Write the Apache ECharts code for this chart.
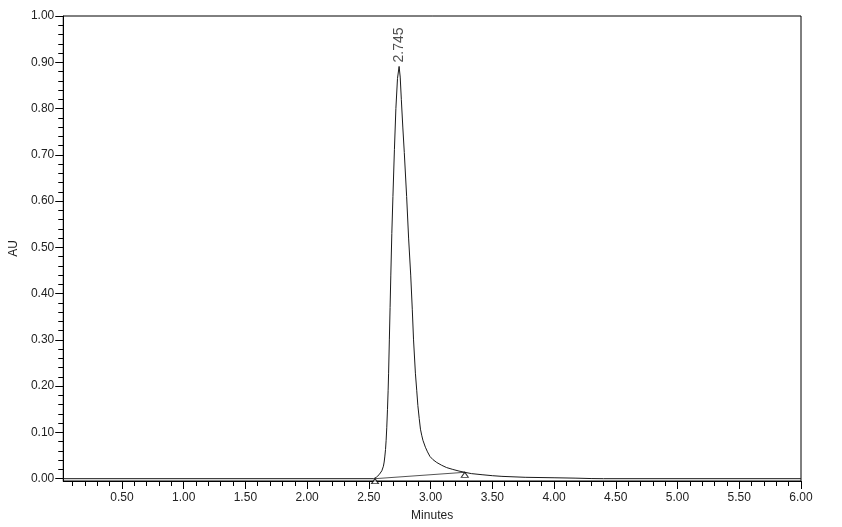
<!DOCTYPE html>
<html>
<head>
<meta charset="utf-8">
<script src="https://cdn.jsdelivr.net/npm/echarts@6/dist/echarts.min.js"></script>
<style>html,body{margin:0;padding:0;background:#fff;}#c{width:842px;height:527px;}</style>
</head>
<body>
<div id="c"></div>
<script>
// Chromatogram trace (minutes, AU)
const traceTime = [0.025, 2.54, 2.550, 2.560, 2.572, 2.583, 2.595, 2.605, 2.612, 2.618, 2.624, 2.629, 2.635, 2.640, 2.645, 2.651, 2.656, 2.660, 2.666, 2.672, 2.678, 2.686, 2.695, 2.707, 2.719, 2.732, 2.745, 2.754, 2.763, 2.775, 2.787, 2.806, 2.822, 2.839, 2.852, 2.862, 2.877, 2.888, 2.897, 2.908, 2.918, 2.928, 2.938, 2.958, 2.975, 2.995, 3.020, 3.050, 3.090, 3.130, 3.180, 3.230, 3.277, 3.330, 3.417, 3.500, 3.578, 3.766, 4.000, 4.170, 4.300, 4.400, 6.0];
const traceAU   = [0,     0,    0.001, 0.003, 0.0055, 0.0086, 0.0125, 0.017, 0.021, 0.027, 0.036, 0.047, 0.063, 0.083, 0.110, 0.150, 0.190, 0.228, 0.300, 0.370, 0.440, 0.530, 0.610, 0.711, 0.800, 0.865, 0.891, 0.868, 0.820, 0.760, 0.705, 0.610, 0.520, 0.440, 0.365, 0.300, 0.228, 0.190, 0.158, 0.130, 0.107, 0.094, 0.083, 0.068, 0.058, 0.048, 0.041, 0.035, 0.029, 0.024, 0.020, 0.0165, 0.0138, 0.011, 0.0086, 0.0065, 0.005, 0.003, 0.002, 0.0012, 0.0003, 0, 0];
// Integration baseline (start / end markers)
const baseTime = [2.55, 3.277];
const baseAU   = [0, 0.0138];
// Peak annotation
const peakTime = 2.745;
const peakAU = 0.891;
// Axis ticks
const xMajorTicks = [0.5, 1.0, 1.5, 2.0, 2.5, 3.0, 3.5, 4.0, 4.5, 5.0, 5.5, 6.0];
const yMajorTicks = [0, 0.1, 0.2, 0.3, 0.4, 0.5, 0.6, 0.7, 0.8, 0.9, 1.0];
const xMinorTicks = []; for (let i = 1; i <= 60; i++) xMinorTicks.push(+(i * 0.1).toFixed(2));
const yMinorTicks = []; for (let i = 0; i <= 50; i++) yMinorTicks.push(+(i * 0.02).toFixed(2));

const X_MIN = 0.025, X_MAX = 6.0, Y_MIN = -0.005, Y_MAX = 1.0;
const FONT = 'Liberation Sans, Arial, sans-serif';
const TXT = '#222';

const chart = echarts.init(document.getElementById('c'), null, {renderer: 'canvas'});
const option = {
  animation: false,
  backgroundColor: '#fff',
  grid: {left: 61, right: 41, top: 16, bottom: 46, show: true, borderColor: '#000', borderWidth: 1, backgroundColor: 'transparent'},
  xAxis: [
    {
      type: 'value', min: X_MIN, max: X_MAX, position: 'bottom',
      name: 'Minutes', nameLocation: 'middle', nameGap: 29,
      nameTextStyle: {fontFamily: FONT, fontSize: 12, color: TXT},
      axisLine: {show: true, onZero: false, lineStyle: {color: '#000', width: 1}},
      axisTick: {show: true, length: 8, lineStyle: {color: '#000'}, customValues: xMajorTicks},
      axisLabel: {show: true, customValues: xMajorTicks, margin: 11, fontFamily: FONT, fontSize: 12, color: TXT,
        formatter: v => v.toFixed(2)},
      splitLine: {show: false}
    },
    {
      type: 'value', min: X_MIN, max: X_MAX, position: 'bottom', offset: 0,
      axisLine: {show: false, onZero: false},
      axisTick: {show: true, length: 5, lineStyle: {color: '#000'}, customValues: xMinorTicks},
      axisLabel: {show: false},
      splitLine: {show: false}
    }
  ],
  yAxis: [
    {
      type: 'value', min: Y_MIN, max: Y_MAX, position: 'left',
      name: 'AU', nameLocation: 'middle', nameGap: 42, nameRotate: 90,
      nameTextStyle: {fontFamily: FONT, fontSize: 12, color: TXT},
      axisLine: {show: true, onZero: false, lineStyle: {color: '#000', width: 1}},
      axisTick: {show: true, length: 8, lineStyle: {color: '#000'}, customValues: yMajorTicks},
      axisLabel: {show: true, customValues: yMajorTicks, margin: 9, fontFamily: FONT, fontSize: 12, color: TXT,
        formatter: v => v.toFixed(2)},
      splitLine: {show: false}
    },
    {
      type: 'value', min: Y_MIN, max: Y_MAX, position: 'left', offset: 0,
      axisLine: {show: false, onZero: false},
      axisTick: {show: true, length: 5, lineStyle: {color: '#000'}, customValues: yMinorTicks},
      axisLabel: {show: false},
      splitLine: {show: false}
    }
  ],
  series: [
    {
      type: 'line', xAxisIndex: 0, yAxisIndex: 0, showSymbol: false, symbol: 'none',
      lineStyle: {color: '#1a1a1a', width: 1}, smooth: false,
      data: traceTime.map((t, i) => [t, traceAU[i]]), z: 3
    },
    {
      type: 'line', xAxisIndex: 0, yAxisIndex: 0, showSymbol: false, symbol: 'none',
      lineStyle: {color: '#555', width: 1},
      data: baseTime.map((t, i) => [t, baseAU[i]]), z: 2
    },
    {
      type: 'scatter', xAxisIndex: 0, yAxisIndex: 0, clip: false,
      symbol: 'triangle', symbolSize: [7, 5], symbolOffset: [0, 2.5],
      itemStyle: {color: '#fff', borderColor: '#000', borderWidth: 1},
      data: baseTime.map((t, i) => [t, baseAU[i]]), z: 4
    },
    {
      type: 'scatter', xAxisIndex: 0, yAxisIndex: 0, clip: false,
      symbolSize: 0, itemStyle: {color: 'transparent'},
      label: {show: true, position: 'top', distance: 4, rotate: 90, align: 'left', verticalAlign: 'middle',
        fontFamily: FONT, fontSize: 14, color: TXT, formatter: p => p.value[0].toFixed(3)},
      data: [[peakTime, peakAU]], z: 5
    }
  ]
};
chart.setOption(option);
</script>
</body>
</html>
